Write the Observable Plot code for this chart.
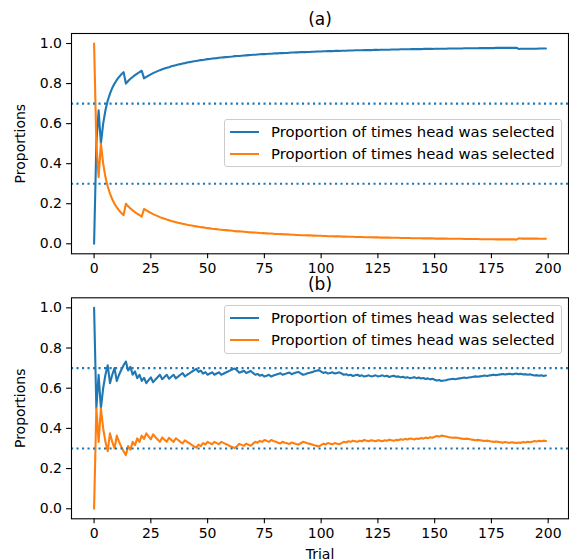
<!DOCTYPE html>
<html>
<head>
<meta charset="utf-8">
<script src="https://cdn.jsdelivr.net/npm/d3@7"></script>
<script src="https://cdn.jsdelivr.net/npm/@observablehq/plot@0.6"></script>
<style>
  html, body { margin: 0; padding: 0; background: #fff; }
  #wrap { position: relative; width: 569px; height: 560px; overflow: hidden; font-family: "DejaVu Sans", sans-serif; }
  .panel { position: absolute; left: 0; }
  .panel svg { overflow: visible; }
  .legend { position: absolute; box-sizing: border-box; background: rgba(255,255,255,0.8);
            border: 1px solid #cccccc; border-radius: 3px; font-size: 14.8px; color: #000; }
  .legend .row { height: 22px; line-height: 22px; white-space: nowrap; padding-left: 5px; }
  .legend .sw { display: inline-block; width: 29px; height: 2.1px; vertical-align: middle; margin-right: 12px; position: relative; top: -1px; }
</style>
</head>
<body>
<div id="wrap"></div>
<script>
// ---- data ----
const seriesLabels = ["Proportion of times head was selected", "Proportion of times head was selected"];
const seriesColors = ["#1f77b4", "#ff7f0e"];
const panelTitles = ["(a)", "(b)"];
const refLevels = [0.7, 0.3];
const xTicks = [0, 25, 50, 75, 100, 125, 150, 175, 200];
const yTicks = [0, 0.2, 0.4, 0.6, 0.8, 1.0];
const xLabel = "Trial";
const yLabel = "Proportions";

const blueA = [
  0, 0.5, 0.667, 0.5, 0.6, 0.667, 0.714, 0.75, 0.778, 0.8,
  0.818, 0.833, 0.846, 0.857, 0.8, 0.813, 0.824, 0.833, 0.842, 0.85,
  0.857, 0.864, 0.826, 0.833, 0.84, 0.846, 0.852, 0.857, 0.862, 0.867,
  0.871, 0.875, 0.879, 0.882, 0.886, 0.889, 0.892, 0.895, 0.897, 0.9,
  0.902, 0.905, 0.907, 0.909, 0.911, 0.913, 0.915, 0.917, 0.918, 0.92,
  0.922, 0.923, 0.925, 0.926, 0.927, 0.929, 0.93, 0.931, 0.932, 0.933,
  0.934, 0.935, 0.937, 0.938, 0.938, 0.939, 0.94, 0.941, 0.942, 0.943,
  0.944, 0.944, 0.945, 0.946, 0.947, 0.947, 0.948, 0.949, 0.949, 0.95,
  0.951, 0.951, 0.952, 0.952, 0.953, 0.953, 0.954, 0.955, 0.955, 0.956,
  0.956, 0.957, 0.957, 0.957, 0.958, 0.958, 0.959, 0.959, 0.96, 0.96,
  0.96, 0.961, 0.961, 0.962, 0.962, 0.962, 0.963, 0.963, 0.963, 0.964,
  0.964, 0.964, 0.965, 0.965, 0.965, 0.966, 0.966, 0.966, 0.966, 0.967,
  0.967, 0.967, 0.967, 0.968, 0.968, 0.968, 0.969, 0.969, 0.969, 0.969,
  0.969, 0.97, 0.97, 0.97, 0.97, 0.971, 0.971, 0.971, 0.971, 0.971,
  0.972, 0.972, 0.972, 0.972, 0.972, 0.973, 0.973, 0.973, 0.973, 0.973,
  0.974, 0.974, 0.974, 0.974, 0.974, 0.974, 0.975, 0.975, 0.975, 0.975,
  0.975, 0.975, 0.975, 0.976, 0.976, 0.976, 0.976, 0.976, 0.976, 0.976,
  0.977, 0.977, 0.977, 0.977, 0.977, 0.977, 0.977, 0.978, 0.978, 0.978,
  0.978, 0.978, 0.978, 0.978, 0.978, 0.978, 0.979, 0.973, 0.974, 0.974,
  0.974, 0.974, 0.974, 0.974, 0.974, 0.974, 0.975, 0.975, 0.975, 0.975
];
const orangeA = [
  1, 0.5, 0.333, 0.5, 0.4, 0.333, 0.286, 0.25, 0.222, 0.2,
  0.182, 0.167, 0.154, 0.143, 0.2, 0.187, 0.176, 0.167, 0.158, 0.15,
  0.143, 0.136, 0.174, 0.167, 0.16, 0.154, 0.148, 0.143, 0.138, 0.133,
  0.129, 0.125, 0.121, 0.118, 0.114, 0.111, 0.108, 0.105, 0.103, 0.1,
  0.098, 0.095, 0.093, 0.091, 0.089, 0.087, 0.085, 0.083, 0.082, 0.08,
  0.078, 0.077, 0.075, 0.074, 0.073, 0.071, 0.07, 0.069, 0.068, 0.067,
  0.066, 0.065, 0.063, 0.062, 0.062, 0.061, 0.06, 0.059, 0.058, 0.057,
  0.056, 0.056, 0.055, 0.054, 0.053, 0.053, 0.052, 0.051, 0.051, 0.05,
  0.049, 0.049, 0.048, 0.048, 0.047, 0.047, 0.046, 0.045, 0.045, 0.044,
  0.044, 0.043, 0.043, 0.043, 0.042, 0.042, 0.041, 0.041, 0.04, 0.04,
  0.04, 0.039, 0.039, 0.038, 0.038, 0.038, 0.037, 0.037, 0.037, 0.036,
  0.036, 0.036, 0.035, 0.035, 0.035, 0.034, 0.034, 0.034, 0.034, 0.033,
  0.033, 0.033, 0.033, 0.032, 0.032, 0.032, 0.031, 0.031, 0.031, 0.031,
  0.031, 0.03, 0.03, 0.03, 0.03, 0.029, 0.029, 0.029, 0.029, 0.029,
  0.028, 0.028, 0.028, 0.028, 0.028, 0.027, 0.027, 0.027, 0.027, 0.027,
  0.026, 0.026, 0.026, 0.026, 0.026, 0.026, 0.025, 0.025, 0.025, 0.025,
  0.025, 0.025, 0.025, 0.024, 0.024, 0.024, 0.024, 0.024, 0.024, 0.024,
  0.023, 0.023, 0.023, 0.023, 0.023, 0.023, 0.023, 0.022, 0.022, 0.022,
  0.022, 0.022, 0.022, 0.022, 0.022, 0.022, 0.021, 0.027, 0.026, 0.026,
  0.026, 0.026, 0.026, 0.026, 0.026, 0.026, 0.025, 0.025, 0.025, 0.025
];
const blueB = [
  1, 0.5, 0.667, 0.5, 0.6, 0.667, 0.714, 0.625, 0.667, 0.7,
  0.636, 0.667, 0.692, 0.714, 0.733, 0.688, 0.706, 0.667, 0.684, 0.65,
  0.667, 0.636, 0.652, 0.625, 0.64, 0.654, 0.63, 0.643, 0.655, 0.667,
  0.645, 0.656, 0.667, 0.647, 0.657, 0.667, 0.649, 0.658, 0.667, 0.675,
  0.659, 0.667, 0.674, 0.682, 0.689, 0.696, 0.681, 0.688, 0.673, 0.68,
  0.667, 0.673, 0.679, 0.667, 0.673, 0.679, 0.667, 0.672, 0.678, 0.683,
  0.689, 0.694, 0.698, 0.688, 0.677, 0.682, 0.687, 0.676, 0.681, 0.686,
  0.676, 0.667, 0.671, 0.662, 0.667, 0.658, 0.662, 0.667, 0.658, 0.663,
  0.667, 0.671, 0.675, 0.667, 0.671, 0.674, 0.678, 0.67, 0.674, 0.678,
  0.681, 0.674, 0.667, 0.67, 0.674, 0.677, 0.68, 0.684, 0.687, 0.69,
  0.683, 0.676, 0.68, 0.673, 0.676, 0.679, 0.673, 0.676, 0.679, 0.673,
  0.667, 0.67, 0.664, 0.667, 0.661, 0.664, 0.667, 0.661, 0.664, 0.658,
  0.661, 0.664, 0.659, 0.661, 0.664, 0.659, 0.661, 0.664, 0.659, 0.662,
  0.656, 0.659, 0.662, 0.657, 0.659, 0.654, 0.657, 0.652, 0.655, 0.65,
  0.652, 0.655, 0.65, 0.653, 0.648, 0.651, 0.646, 0.649, 0.644, 0.647,
  0.642, 0.638, 0.641, 0.636, 0.638, 0.64, 0.643, 0.645, 0.647, 0.645,
  0.647, 0.649, 0.651, 0.653, 0.651, 0.653, 0.655, 0.657, 0.659, 0.657,
  0.659, 0.661, 0.663, 0.661, 0.663, 0.665, 0.667, 0.665, 0.667, 0.669,
  0.671, 0.668, 0.67, 0.672, 0.669, 0.671, 0.673, 0.67, 0.672, 0.668,
  0.67, 0.667, 0.669, 0.666, 0.663, 0.665, 0.662, 0.664, 0.661, 0.663
];
const orangeB = [
  0, 0.5, 0.333, 0.5, 0.4, 0.333, 0.286, 0.375, 0.333, 0.3,
  0.364, 0.333, 0.308, 0.286, 0.267, 0.312, 0.294, 0.333, 0.316, 0.35,
  0.333, 0.364, 0.348, 0.375, 0.36, 0.346, 0.37, 0.357, 0.345, 0.333,
  0.355, 0.344, 0.333, 0.353, 0.343, 0.333, 0.351, 0.342, 0.333, 0.325,
  0.341, 0.333, 0.326, 0.318, 0.311, 0.304, 0.319, 0.312, 0.327, 0.32,
  0.333, 0.327, 0.321, 0.333, 0.327, 0.321, 0.333, 0.328, 0.322, 0.317,
  0.311, 0.306, 0.302, 0.312, 0.323, 0.318, 0.313, 0.324, 0.319, 0.314,
  0.324, 0.333, 0.329, 0.338, 0.333, 0.342, 0.338, 0.333, 0.342, 0.337,
  0.333, 0.329, 0.325, 0.333, 0.329, 0.326, 0.322, 0.33, 0.326, 0.322,
  0.319, 0.326, 0.333, 0.33, 0.326, 0.323, 0.32, 0.316, 0.313, 0.31,
  0.317, 0.324, 0.32, 0.327, 0.324, 0.321, 0.327, 0.324, 0.321, 0.327,
  0.333, 0.33, 0.336, 0.333, 0.339, 0.336, 0.333, 0.339, 0.336, 0.342,
  0.339, 0.336, 0.341, 0.339, 0.336, 0.341, 0.339, 0.336, 0.341, 0.338,
  0.344, 0.341, 0.338, 0.343, 0.341, 0.346, 0.343, 0.348, 0.345, 0.35,
  0.348, 0.345, 0.35, 0.347, 0.352, 0.349, 0.354, 0.351, 0.356, 0.353,
  0.358, 0.362, 0.359, 0.364, 0.362, 0.36, 0.357, 0.355, 0.353, 0.355,
  0.353, 0.351, 0.349, 0.347, 0.349, 0.347, 0.345, 0.343, 0.341, 0.343,
  0.341, 0.339, 0.337, 0.339, 0.337, 0.335, 0.333, 0.335, 0.333, 0.331,
  0.329, 0.332, 0.33, 0.328, 0.331, 0.329, 0.327, 0.33, 0.328, 0.332,
  0.33, 0.333, 0.331, 0.334, 0.337, 0.335, 0.338, 0.336, 0.339, 0.337
];

// ---- drawing ----
const wrap = document.getElementById("wrap");

function toRows(blue, orange) {
  const rows = [];
  blue.forEach((v, i) => rows.push({trial: i, value: v, series: 0}));
  orange.forEach((v, i) => rows.push({trial: i, value: v, series: 1}));
  return rows;
}

function panel({blue, orange, title, top, height, marginTop, marginBottom, showXLabel, legendTop, legendHeight}) {
  const rows = toRows(blue, orange);
  const chart = Plot.plot({
    width: 569,
    height,
    marginLeft: 71,
    marginRight: 1,
    marginTop,
    marginBottom,
    style: {fontFamily: "DejaVu Sans, sans-serif", fontSize: "14px", color: "#000", background: "transparent", overflow: "visible"},
    x: {domain: [-9.95, 208.95]},
    y: {domain: [-0.05, 1.05]},
    marks: [
      Plot.axisX({ticks: xTicks, tickSize: 4.9, tickPadding: 4.6, tickFormat: d => String(d), strokeWidth: 1.1,
                  label: showXLabel ? xLabel : null, labelAnchor: "center", labelArrow: "none", labelOffset: 40}),
      Plot.axisY({ticks: yTicks, tickSize: 4.9, tickPadding: 4.6, tickFormat: d3.format(".1f"), strokeWidth: 1.1,
                  label: yLabel, labelAnchor: "center", labelArrow: "none", labelOffset: 56}),
      Plot.line(rows.filter(d => d.series === 0), {x: "trial", y: "value", stroke: seriesColors[0], strokeWidth: 2.1}),
      Plot.line(rows.filter(d => d.series === 1), {x: "trial", y: "value", stroke: seriesColors[1], strokeWidth: 2.1}),
      Plot.ruleY(refLevels, {stroke: seriesColors[0], strokeWidth: 2.1, strokeDasharray: "2.1,3.4"}),
      Plot.frame({stroke: "#000", strokeWidth: 1.1}),
      Plot.text([title], {frameAnchor: "top", dy: -13.5, fontSize: 17, lineAnchor: "middle", fill: "#000"})
    ]
  });
  const div = document.createElement("div");
  div.className = "panel";
  div.style.top = top + "px";
  div.appendChild(chart);
  wrap.appendChild(div);

  const leg = document.createElement("div");
  leg.className = "legend";
  leg.style.left = "224px";
  leg.style.width = "338px";
  leg.style.top = legendTop + "px";
  leg.style.height = legendHeight + "px";
  leg.style.paddingTop = "1.5px";
  seriesLabels.forEach((lab, i) => {
    const r = document.createElement("div");
    r.className = "row";
    const sw = document.createElement("span");
    sw.className = "sw";
    sw.style.background = seriesColors[i];
    r.appendChild(sw);
    r.appendChild(document.createTextNode(lab));
    leg.appendChild(r);
  });
  wrap.appendChild(leg);
}

panel({blue: blueA, orange: orangeA, title: panelTitles[0], top: 0, height: 279, marginTop: 33, marginBottom: 25.7,
       showXLabel: false, legendTop: 118.5, legendHeight: 48.5});
panel({blue: blueB, orange: orangeB, title: panelTitles[1], top: 279, height: 281, marginTop: 18.3, marginBottom: 41.7,
       showXLabel: true, legendTop: 304.5, legendHeight: 49});
</script>
</body>
</html>
